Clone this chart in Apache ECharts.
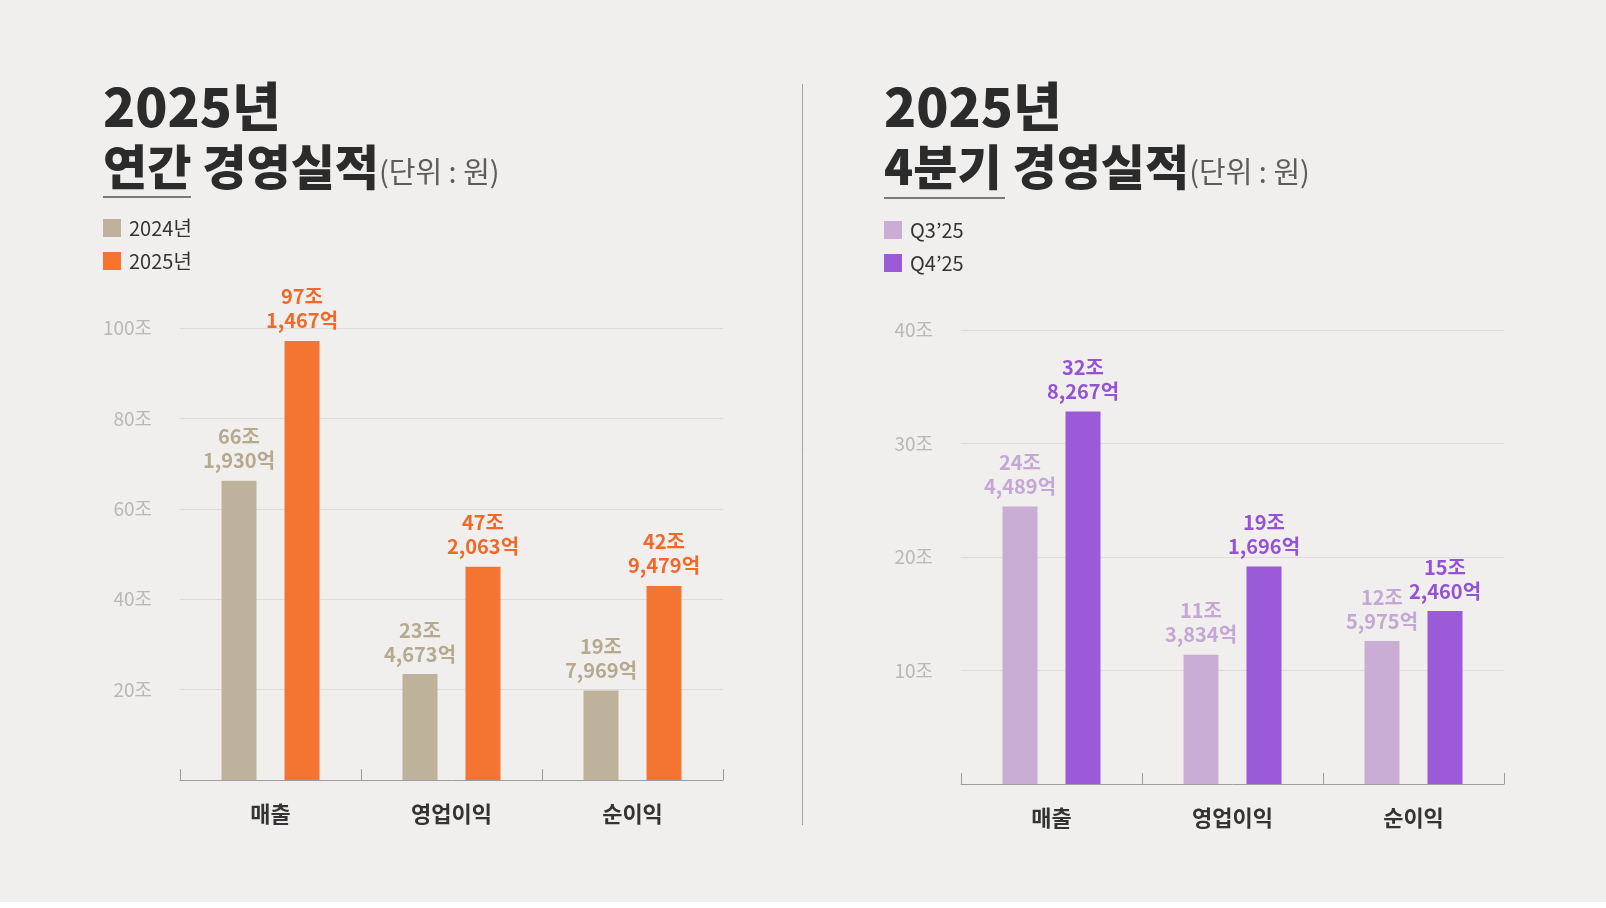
<!DOCTYPE html>
<html>
<head>
<meta charset="utf-8">
<title>2025년 경영실적</title>
<script src="https://cdn.jsdelivr.net/npm/echarts@6/dist/echarts.min.js"></script>
<style>
  html, body { margin: 0; padding: 0; background: #ffffff; }
  #chart { width: 1606px; height: 902px; background: #f0efed; }
</style>
</head>
<body>
<div id="chart"></div>
<script>
// 데이터 (단위: 억 원)
const categories = ['매출', '영업이익', '순이익']
const yearNames = ['2024년', '2025년']
const year2024 = [661930, 234673, 197969]
const year2025 = [971467, 472063, 429479]
const quarterNames = ['Q3\u201925', 'Q4\u201925']
const q3_25 = [244489, 113834, 125975]
const q4_25 = [328267, 191696, 152460]

const FONT = '"Noto Sans CJK KR", "Noto Sans", sans-serif'

// 억 → 조 (축 값)
const toJo = arr => arr.map(v => v / 10000)

// "97조\n1,467억"
const fmtLabel = p => {
  const eok = Math.round(p.value * 10000)
  const jo = Math.floor(eok / 10000)
  const rest = eok % 10000
  return jo + '조\n' + rest.toLocaleString('en-US') + '억'
}

const chart = echarts.init(document.getElementById('chart'))

const xAxisBase = gridIndex => ({
  type: 'category',
  gridIndex,
  data: categories,
  axisLine: { lineStyle: { color: '#9c9c9c', width: 1 } },
  axisTick: { show: true, inside: true, length: 11, lineStyle: { color: '#9c9c9c' } },
  axisLabel: { color: '#333333', fontSize: 22, fontWeight: 'bold', fontFamily: FONT, margin: 23 },
  splitLine: { show: false }
})

const yAxisBase = (gridIndex, max, interval) => ({
  type: 'value',
  gridIndex,
  min: 0,
  max,
  interval,
  axisLine: { show: false },
  axisTick: { show: false },
  axisLabel: {
    color: '#b8b8b8',
    fontSize: 19,
    fontFamily: FONT,
    margin: 28,
    formatter: v => (v === 0 ? '' : v + '조')
  },
  splitLine: { lineStyle: { color: '#dddcda', width: 1 } }
})

const barSeries = (name, data, color, labelColor, idx) => ({
  name,
  type: 'bar',
  xAxisIndex: idx,
  yAxisIndex: idx,
  data: toJo(data),
  barWidth: 35,
  barGap: '80%',
  itemStyle: { color },
  label: {
    show: true,
    position: 'top',
    distance: 8,
    formatter: fmtLabel,
    color: labelColor,
    fontSize: 20,
    fontWeight: 'bold',
    lineHeight: 24,
    fontFamily: FONT
  },
  emphasis: { disabled: true }
})

const legendBase = (left, top, data) => ({
  orient: 'vertical',
  left,
  top,
  padding: 0,
  data,
  icon: 'rect',
  itemWidth: 18,
  itemHeight: 18,
  itemGap: 13,
  selectedMode: false,
  textStyle: { color: '#333333', fontSize: 20, fontFamily: FONT, lineHeight: 20, padding: [0, 0, 0, 3] }
})

const titleText = (x, line1, line2a) => [
  {
    type: 'text',
    left: x,
    top: 80,
    style: {
      text: line1,
      fill: '#2b2b2b',
      font: '900 53px ' + FONT
    }
  },
  {
    type: 'text',
    left: x,
    top: 143,
    style: {
      text: '{t|' + line2a + '}{u|(단위 : 원)}',
      rich: {
        t: { fill: '#2b2b2b', fontSize: 48, fontWeight: 900, fontFamily: FONT, lineHeight: 60, verticalAlign: 'bottom' },
        u: { fill: '#5c5c5c', fontSize: 29, fontFamily: FONT, lineHeight: 40, verticalAlign: 'bottom', padding: [0, 0, 5, 0] }
      }
    }
  }
]

chart.setOption({
  animation: false,
  grid: [
    { left: 180, right: 883, top: 328, bottom: 122 },
    { left: 961, right: 102, top: 330, bottom: 118 }
  ],
  legend: [
    legendBase(103, 218, yearNames),
    legendBase(884, 220, quarterNames)
  ],
  xAxis: [xAxisBase(0), xAxisBase(1)],
  yAxis: [yAxisBase(0, 100, 20), yAxisBase(1, 40, 10)],
  series: [
    barSeries(yearNames[0], year2024, '#bfb29b', '#b7a98f', 0),
    barSeries(yearNames[1], year2025, '#f47432', '#f0692a', 0),
    barSeries(quarterNames[0], q3_25, '#c9add5', '#c5a7d5', 1),
    barSeries(quarterNames[1], q4_25, '#9b5bd8', '#9452d6', 1)
  ],
  graphic: [
    ...titleText(103, '2025년', '연간 경영실적'),
    ...titleText(884, '2025년', '4분기 경영실적'),
    { type: 'line', shape: { x1: 103, y1: 197, x2: 191, y2: 197 }, style: { stroke: '#7a7a7a', lineWidth: 2 } },
    { type: 'line', shape: { x1: 884, y1: 198, x2: 1005, y2: 198 }, style: { stroke: '#7a7a7a', lineWidth: 2 } },
    { type: 'line', shape: { x1: 802.5, y1: 84, x2: 802.5, y2: 825 }, style: { stroke: '#a3a3a3', lineWidth: 1 } }
  ]
})
</script>
</body>
</html>
